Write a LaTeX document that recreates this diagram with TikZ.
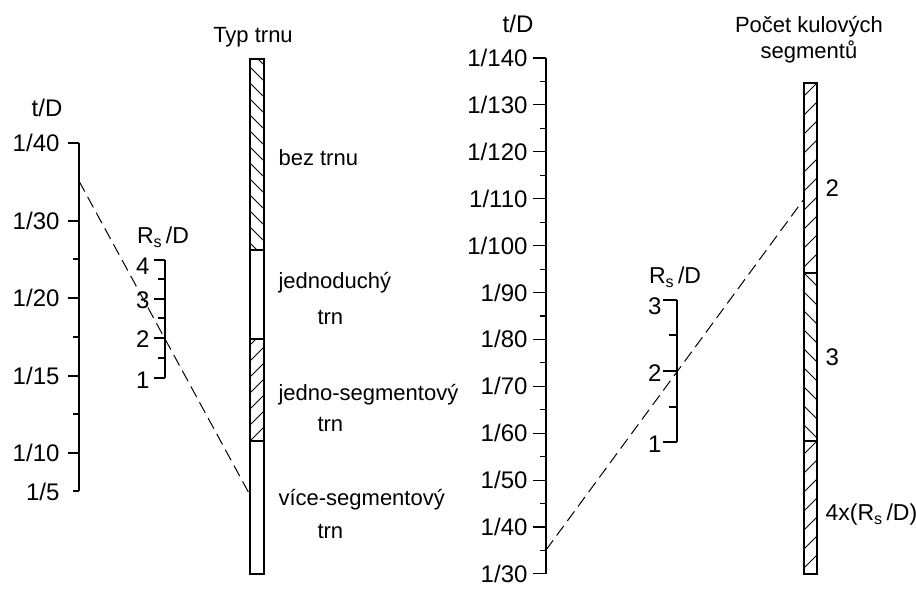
\documentclass[tikz,border=0pt]{standalone}
\usepackage{fontspec}
\setmainfont{Liberation Sans}
\begin{document}
\begin{tikzpicture}[x=1pt, y=-1pt, line width=1.1pt,
  numlabel/.style={anchor=east, inner sep=0pt, font=\fontsize{24}{28}\selectfont},
  txtlabel/.style={anchor=west, inner sep=0pt, font=\fontsize{22}{26}\selectfont},
  headlabel/.style={anchor=center, inner sep=0pt, align=center, font=\fontsize{22}{26}\selectfont},
  dashline/.style={line width=1pt, dash pattern=on 12pt off 6pt},
  hatchline/.style={line width=0.8pt}]
  \useasboundingbox (0,0) rectangle (916,590);

  % left t/D scale
  \draw (79,143) -- (79,491);
  \foreach \y/\v in {143/40, 221/30, 298/20, 376/15, 453/10} {
    \draw (68,\y) -- (79,\y);
    \node[numlabel] (tL-\v) at (60,\y) {1/\v};
  }
  \foreach \y in {259, 337, 414, 491} \draw (73,\y) -- (79,\y);
  \node[numlabel] (tL-5) at (60,492) {1/5};
  \node[headlabel, font=\fontsize{24}{28}\selectfont] (tLhead) at (47,108) {t/D};

  % left Rs/D scale
  \draw (165,260) -- (165,378);
  \foreach \y/\v in {260/4, 299/3, 338/2, 378/1} {
    \draw (154,\y) -- (165,\y);
  }
  \node[numlabel] (rsL-4) at (150,266) {4};
  \node[numlabel] (rsL-3) at (150,300) {3};
  \node[numlabel] (rsL-2) at (150,339) {2};
  \node[numlabel] (rsL-1) at (150,380) {1};
  \foreach \y in {279, 318, 358} \draw (158,\y) -- (165,\y);
  \node[headlabel, font=\fontsize{23}{27}\selectfont] (rsLhead) at (163,237) {R\textsubscript{s}\,/D};

  % Typ trnu bar
  \begin{scope}
    \clip (250,59) rectangle (264,250);
    \foreach \y in {51,67,...,250} \draw[hatchline] (250,\y) -- ++(14,14);
  \end{scope}
  \begin{scope}
    \clip (250,339) rectangle (264,441);
    \foreach \y in {345,361,...,460} \draw[hatchline] (250,\y) -- ++(14,-14);
  \end{scope}
  \draw (250,59) rectangle (264,574);
  \draw (250,250) -- (264,250);
  \draw (250,339) -- (264,339);
  \draw (250,441) -- (264,441);
  \node[headlabel] (trnhead) at (253,37) {Typ trnu};
  \node[txtlabel] (beztrnu) at (278,158) {bez trnu};
  \node[txtlabel] (jedn) at (278,283) {jednoduchý};
  \node[txtlabel] (jedntrn) at (317,317) {trn};
  \node[txtlabel] (jseg) at (278,395) {jedno-segmentový};
  \node[txtlabel] (jsegtrn) at (317,424) {trn};
  \node[txtlabel] (vseg) at (278,500) {více-segmentový};
  \node[txtlabel] (vsegtrn) at (317,531) {trn};

  % right t/D scale
  \draw (546,58) -- (546,574);
  \foreach \v [count=\k from 0] in {140,130,120,110,100,90,80,70,60,50,40,30} {
    \draw (533,58+46.9*\k) -- (546,58+46.9*\k);
    \node[numlabel] (tR-\v) at (528,58+46.9*\k) {1/\v};
  }
  \foreach \k in {0,...,10} \draw (540,81.5+46.9*\k) -- (546,81.5+46.9*\k);
  \node[headlabel, font=\fontsize{24}{28}\selectfont] (tRhead) at (518,24) {t/D};

  % right Rs/D scale
  \draw (677,300) -- (677,442);
  \foreach \y in {300, 371, 442} \draw (663,\y) -- (677,\y);
  \node[numlabel] (rsR-3) at (662,306) {3};
  \node[numlabel] (rsR-2) at (662,373) {2};
  \node[numlabel] (rsR-1) at (662,444) {1};
  \foreach \y in {335, 407} \draw (669,\y) -- (677,\y);
  \node[headlabel, font=\fontsize{23}{27}\selectfont] (rsRhead) at (675,277) {R\textsubscript{s}\,/D};

  % segment bar
  \begin{scope}
    \clip (804,83) rectangle (817,273);
    \foreach \y in {96,115,...,290} \draw[hatchline] (804,\y) -- ++(13,-13);
  \end{scope}
  \begin{scope}
    \clip (804,273) rectangle (817,441);
    \foreach \y in {254,273,...,441} \draw[hatchline] (804,\y) -- ++(13,13);
  \end{scope}
  \begin{scope}
    \clip (804,441) rectangle (817,574);
    \foreach \y in {454,473,...,590} \draw[hatchline] (804,\y) -- ++(13,-13);
  \end{scope}
  \draw (804,83) rectangle (817,574);
  \draw (804,273) -- (817,273);
  \draw (804,441) -- (817,441);
  \node[headlabel] (seghead) at (809,40) {Počet kulových\\segmentů};
  \node[txtlabel, font=\fontsize{24}{28}\selectfont] (seg2) at (825,188) {2};
  \node[txtlabel, font=\fontsize{24}{28}\selectfont] (seg3) at (825,357) {3};
  \node[txtlabel, font=\fontsize{23}{27}\selectfont] (seg4) at (825,515) {4x(R\textsubscript{s}\,/D)};

  % reading lines
  \coordinate (tLpt) at (79,181);
  \coordinate (trnpt) at (250,495);
  \coordinate (tRpt) at (546,550);
  \coordinate (segpt) at (804,199);
  \draw[dashline] (tLpt) -- (trnpt);
  \draw[dashline] (tRpt) -- (segpt);
\end{tikzpicture}
\end{document}
